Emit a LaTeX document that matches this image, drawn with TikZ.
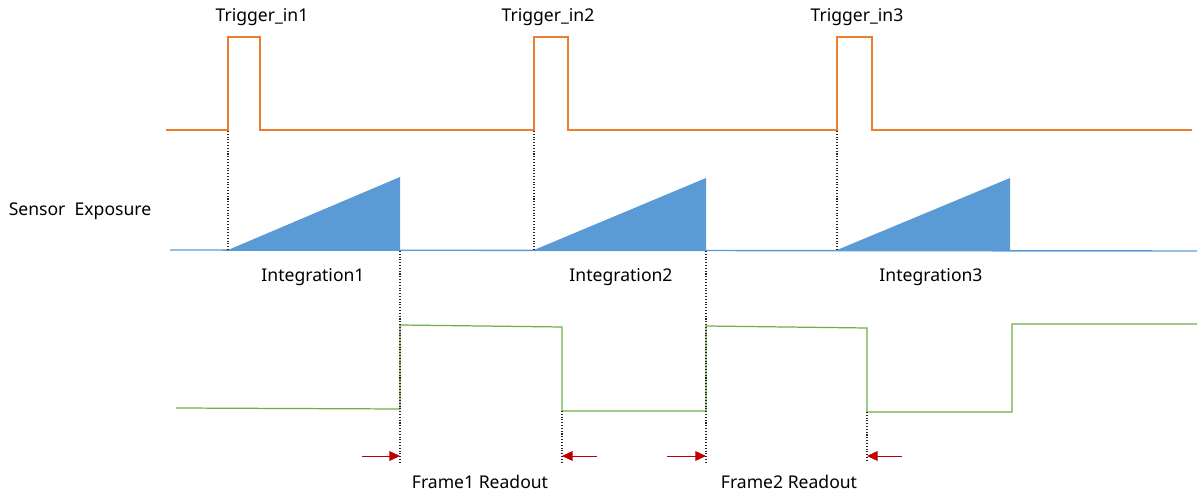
\documentclass[tikz,border=0pt]{standalone}
\usepackage{fontspec}
\setmainfont{Noto Sans}
\usepackage{xcolor}
\usetikzlibrary{arrows.meta, positioning, calc}
\definecolor{triggerorange}{RGB}{237, 125, 49}
\definecolor{exposeblue}{RGB}{91, 155, 213}
\definecolor{readgreen}{RGB}{112, 173, 71}
\definecolor{markred}{RGB}{192, 0, 0}

\begin{document}
\begin{tikzpicture}[x=0.02cm, y=-0.02cm,
    label/.style={font=\fontsize{10}{12}\selectfont, inner sep=0pt},
    trigger/.style={draw=triggerorange, line width=0.8pt},
    exposure/.style={draw=exposeblue, line width=0.8pt},
    ramp/.style={fill=exposeblue, draw=none},
    readout/.style={draw=readgreen, line width=0.7pt},
    guide/.style={densely dotted, line width=0.6pt, black!85},
    marker/.style={-{Triangle[length=6pt, width=5.5pt]}, markred, line width=0.5pt}
]
    \useasboundingbox (0,0) rectangle (1198,496);

    % Trigger in
    \draw[trigger] (166,130) -- (228,130) -- (228,37) -- (260,37) -- (260,130)
        -- (534,130) -- (534,37) -- (568,37) -- (568,130)
        -- (837,130) -- (837,37) -- (872,37) -- (872,130) -- (1192,130);
    \node[label] (trig1) at (262,17) {Trigger\_in1};
    \node[label] (trig2) at (548,17) {Trigger\_in2};
    \node[label] (trig3) at (857,17) {Trigger\_in3};

    % Sensor exposure
    \node[label] (sensor) at (80,211) {Sensor\ \ Exposure};
    \fill[ramp] (228,250) -- (400,177) -- (400,250) -- cycle;
    \fill[ramp] (534,250) -- (706,178) -- (706,250) -- cycle;
    \fill[ramp] (837,250) -- (1010,178) -- (1010,250) -- cycle;
    \draw[exposure] (170,250) -- (1197,251);
    \node[label] (integ1) at (313,277) {Integration1};
    \node[label] (integ2) at (621,277) {Integration2};
    \node[label] (integ3) at (931,277) {Integration3};

    % Frame readout
    \draw[readout] (176,408) -- (400,409) -- (400,325) -- (562,327) -- (562,411)
        -- (706,411) -- (706,326) -- (867,328) -- (867,412) -- (1012,412)
        -- (1012,324) -- (1197,324);
    \node[label] (frame1) at (480,482) {Frame1 Readout};
    \node[label] (frame2) at (789,482) {Frame2 Readout};

    % Guides
    \coordinate (g1a) at (228,131);  \coordinate (g1b) at (228,250);
    \coordinate (g2a) at (534,131);  \coordinate (g2b) at (534,250);
    \coordinate (g3a) at (837,131);  \coordinate (g3b) at (837,250);
    \coordinate (r1a) at (400,251);  \coordinate (r1b) at (400,462);
    \coordinate (r2a) at (562,411);  \coordinate (r2b) at (562,462);
    \coordinate (r3a) at (706,251);  \coordinate (r3b) at (706,462);
    \coordinate (r4a) at (867,412);  \coordinate (r4b) at (867,462);
    \foreach \a/\b in {g1a/g1b, g2a/g2b, g3a/g3b, r1a/r1b, r2a/r2b, r3a/r3b, r4a/r4b}
        \draw[guide] (\a) -- (\b);

    % Arrows
    \draw[marker] (362,456) -- (r1a |- 0,456);
    \draw[marker] (597,456) -- (r2a |- 0,456);
    \draw[marker] (667,456) -- (r3a |- 0,456);
    \draw[marker] (902,456) -- (r4a |- 0,456);
\end{tikzpicture}
\end{document}
